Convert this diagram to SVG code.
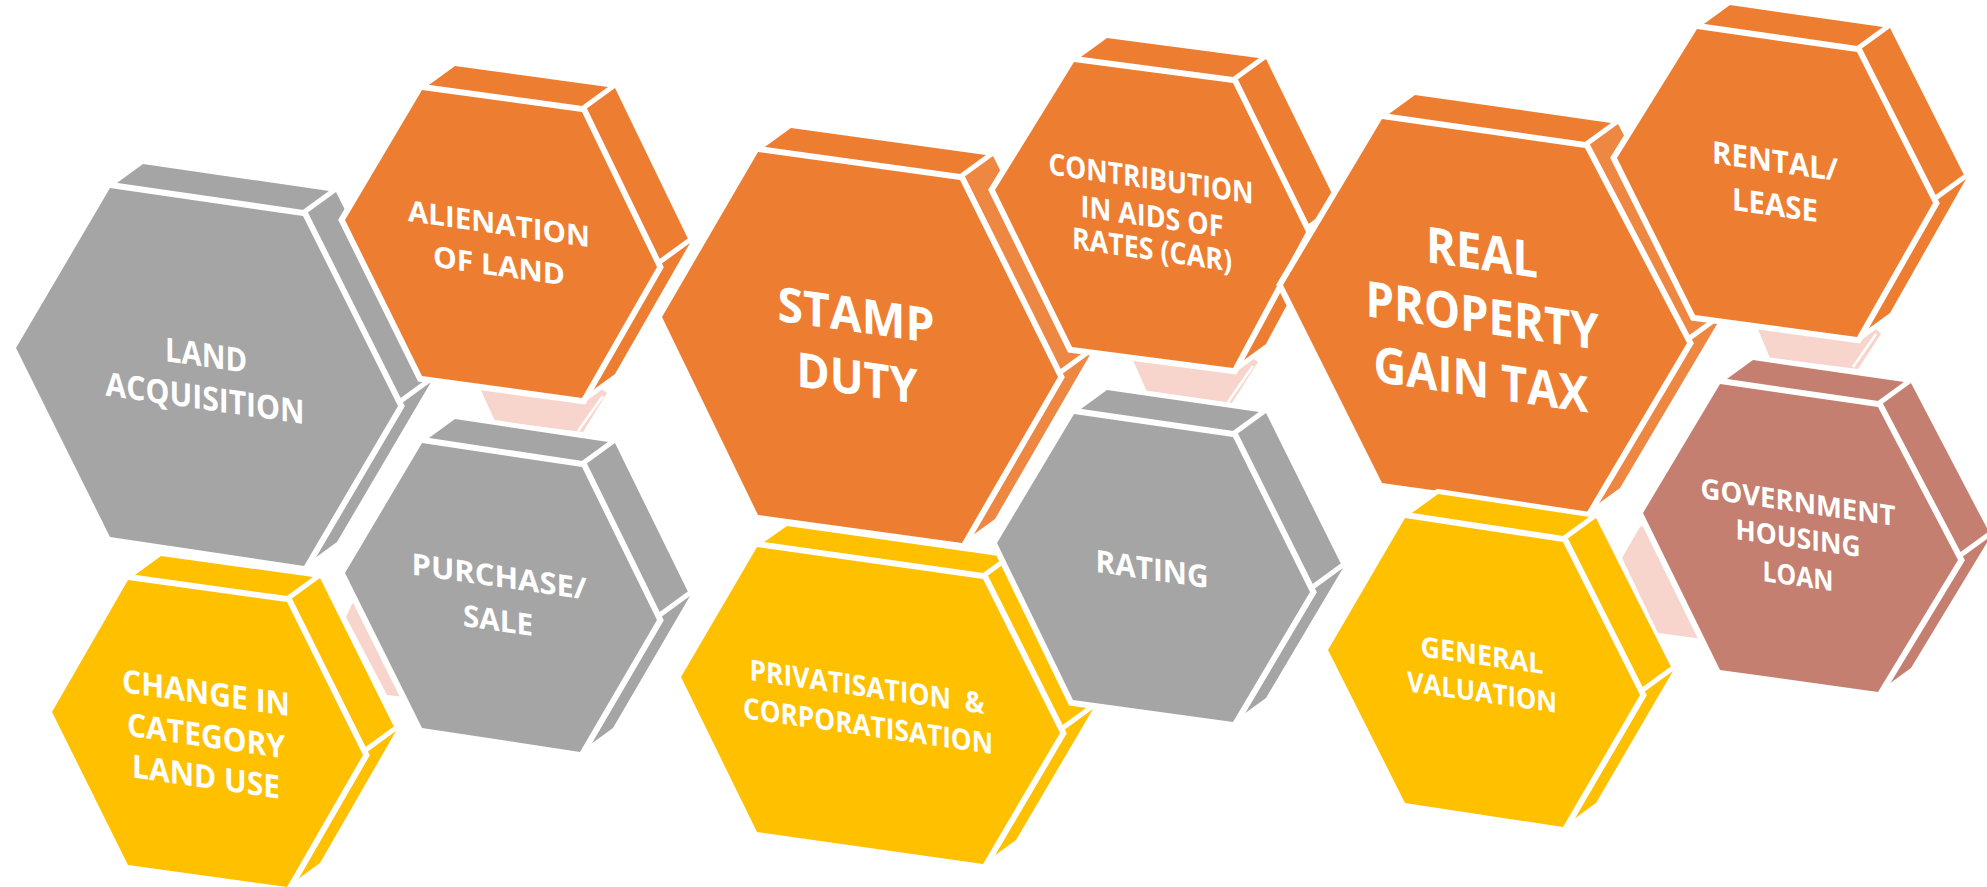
<svg xmlns="http://www.w3.org/2000/svg" width="1987" height="887" viewBox="0 0 1987 887">
<style>
.g{fill:#A5A5A5}.o{fill:#ED7D31}.y{fill:#FFC000}.b{fill:#C47F70}.ol{fill:#EE8742}
.f{stroke:#fff;stroke-width:12;paint-order:stroke;stroke-linejoin:miter}
.s{stroke:#fff;stroke-width:10;paint-order:stroke;stroke-linejoin:round}
.pk{fill:#F7D5CC}
.wl{stroke:#fff;stroke-width:2.5;fill:none}
text{font-family:"Open Sans","DejaVu Sans",sans-serif;font-weight:700;fill:#fff;text-anchor:middle;white-space:pre}
</style>
<rect width="1987" height="887" fill="#fff"/>

<g id="land-acquisition">
<polygon class="g s" points="110,188 303,216 336,192 143,164"/>
<polygon class="g s" points="303,216 398,406 431,382 336,192"/>
<polygon class="g s" points="398,406 304,566 337,542 431,382"/>
<polygon class="g f" points="110,188 303,216 398,406 304,566 110,537 16,348"/>
<g transform="translate(207 377) skewY(8.2)" font-size="33">
<text x="-1" y="-10" textLength="82" lengthAdjust="spacingAndGlyphs">LAND</text>
<text x="-2" y="33" textLength="199" lengthAdjust="spacingAndGlyphs">ACQUISITION</text>
</g>
</g>

<g id="change-in-category">
<polygon class="y s" points="128,580 287,602 320,578 161,556"/>
<polygon class="y s" points="287,602 363,755 396,731 320,578"/>
<polygon class="y s" points="363,755 287,887 320,863 396,731"/>
<polygon class="y f" points="128,580 287,602 363,755 287,887 128,865 52,712"/>
<g transform="translate(207.5 733.5) skewY(8.2)" font-size="32">
<text x="-1.5" y="-29.3" textLength="168" lengthAdjust="spacingAndGlyphs">CHANGE IN</text>
<text x="-1.5" y="13.7" textLength="158" lengthAdjust="spacingAndGlyphs">CATEGORY</text>
<text x="-1.5" y="54.7" textLength="148" lengthAdjust="spacingAndGlyphs">LAND USE</text>
</g>
</g>

<g id="connectors">
<g id="link-alienation-purchase">
<polygon class="pk" points="479,386 495,421 583,432 607,393 598,386"/>
<line class="wl" x1="578" y1="431" x2="603" y2="396"/>
</g>
</g>

<g id="alienation-of-land">
<polygon class="o s" points="422,90 582,112 615,88 455,66"/>
<polygon class="o s" points="582,112 657,267 690,243 615,88"/>
<polygon class="o s" points="657,267 582,398 615,374 690,243"/>
<polygon class="o f" points="422,90 582,112 657,267 582,398 422,376 345,220"/>
<g transform="translate(501 243.5) skewY(8.2)" font-size="29">
<text x="-2" y="-9.2" textLength="182" lengthAdjust="spacingAndGlyphs">ALIENATION</text>
<text x="-2" y="32.8" textLength="132" lengthAdjust="spacingAndGlyphs">OF LAND</text>
</g>
</g>

<g id="link-change-purchase">
<polygon class="pk" points="352,604 346,617 387,695 405,697 360,600"/>
</g>

<g id="purchase-sale">
<polygon class="g s" points="422,443 582,467 615,443 455,419"/>
<polygon class="g s" points="582,467 657,620 690,596 615,443"/>
<polygon class="g s" points="657,620 580,752 613,728 690,596"/>
<polygon class="g f" points="422,443 582,467 657,620 580,752 422,728 345,573"/>
<g transform="translate(501 596.5) skewY(8.2)" font-size="30">
<text x="-2" y="-9.2" textLength="175" lengthAdjust="spacingAndGlyphs">PURCHASE/</text>
<text x="-3" y="34.9" textLength="70" lengthAdjust="spacingAndGlyphs">SALE</text>
</g>
</g>

<g id="stamp-duty">
<polygon class="o s" points="758,152 960,180 993,156 791,128"/>
<polygon class="ol s" points="960,180 1058,377 1091,353 993,156"/>
<polygon class="ol s" points="1058,377 962,543 995,519 1091,353"/>
<polygon class="o f" points="758,152 960,180 1058,377 962,543 758,515 662,317"/>
<g transform="translate(860 347) skewY(8.2)" font-size="48">
<text x="-4" y="-14.4" textLength="157" lengthAdjust="spacingAndGlyphs">STAMP</text>
<text x="-3" y="48.4" textLength="121" lengthAdjust="spacingAndGlyphs">DUTY</text>
</g>
</g>

<g id="privatisation-corporatisation">
<polygon class="y s" points="757,547 983,579 1013,558 787,526"/>
<polygon class="y s" points="983,579 1060,733 1093,709 1015,556"/>
<polygon class="y s" points="1060,733 983,864 1016,840 1093,709"/>
<polygon class="y f" points="757,547 983,579 1060,733 983,864 757,832 681,677"/>
<g transform="translate(870 705) skewY(8.2)" font-size="29">
<text x="-3" y="-7.6" textLength="235" lengthAdjust="spacingAndGlyphs" xml:space="preserve">PRIVATISATION  &amp;</text>
<text x="-2" y="31.3" textLength="250" lengthAdjust="spacingAndGlyphs">CORPORATISATION</text>
</g>
</g>

<g id="link-contribution-rating">
<polygon class="pk" points="1132,358 1147,392 1232,403 1258,362 1250,356"/>
<line class="wl" x1="1228" y1="402" x2="1253" y2="366"/>
</g>

<g id="contribution-in-aids-of-rates">
<polygon class="o s" points="1074,62 1233,83 1266,59 1107,38"/>
<polygon class="o s" points="1233,83 1306,232 1339,208 1266,59"/>
<polygon class="o s" points="1306,232 1233,368 1266,344 1339,208"/>
<polygon class="o f" points="1074,62 1233,83 1306,232 1233,368 1072,347 995,190"/>
<g transform="translate(1150.5 211) skewY(8.2)" font-size="30">
<text x="0.5" y="-22" textLength="205" lengthAdjust="spacingAndGlyphs">CONTRIBUTION</text>
<text x="1.5" y="15.8" textLength="143" lengthAdjust="spacingAndGlyphs">IN AIDS OF</text>
<text x="1.5" y="48.8" textLength="160" lengthAdjust="spacingAndGlyphs">RATES (CAR)</text>
</g>
</g>

<g id="rating">
<polygon class="g s" points="1074,414 1233,437 1266,413 1107,390"/>
<polygon class="g s" points="1233,437 1310,592 1343,568 1266,413"/>
<polygon class="g s" points="1310,592 1233,722 1266,698 1343,568"/>
<polygon class="g f" points="1074,414 1233,437 1310,592 1233,722 1073,700 997,543"/>
<g transform="translate(1153.5 567.5) skewY(8.2)" font-size="31">
<text x="-1.5" y="12.7" textLength="113" lengthAdjust="spacingAndGlyphs">RATING</text>
</g>
</g>

<g id="real-property-gain-tax">
<polygon class="o s" points="1382,119 1585,148 1618,124 1415,95"/>
<polygon class="ol s" points="1585,148 1687,343 1720,319 1618,124"/>
<polygon class="ol s" points="1687,343 1587,512 1620,488 1720,319"/>
<polygon class="o f" points="1382,119 1585,148 1687,343 1587,512 1382,483 1283,285"/>
<g transform="translate(1485 314) skewY(8.2)" font-size="50">
<text x="-3" y="-43.6" textLength="112" lengthAdjust="spacingAndGlyphs">REAL</text>
<text x="-3" y="19.4" textLength="233" lengthAdjust="spacingAndGlyphs">PROPERTY</text>
<text x="-4" y="83.6" textLength="215" lengthAdjust="spacingAndGlyphs">GAIN TAX</text>
</g>
</g>

<g id="general-valuation">
<polygon class="y s" points="1405,518 1563,542 1596,518 1438,494"/>
<polygon class="y s" points="1563,542 1640,695 1673,671 1596,518"/>
<polygon class="y s" points="1640,695 1563,827 1596,803 1673,671"/>
<polygon class="y f" points="1405,518 1563,542 1640,695 1563,827 1405,803 1328,650"/>
<g transform="translate(1484 672.5) skewY(8.2)" font-size="28">
<text x="-2" y="-7.2" textLength="123" lengthAdjust="spacingAndGlyphs">GENERAL</text>
<text x="-2" y="29.8" textLength="150" lengthAdjust="spacingAndGlyphs">VALUATION</text>
</g>
</g>

<g id="link-rental-government">
<polygon class="pk" points="1757,327 1770,358 1858,369 1881,334 1875,328"/>
<line class="wl" x1="1853" y1="367" x2="1876" y2="334"/>
</g>

<g id="rental-lease">
<polygon class="o s" points="1697,29 1857,52 1890,28 1730,5"/>
<polygon class="o s" points="1857,52 1933,203 1966,179 1890,28"/>
<polygon class="o s" points="1933,203 1857,337 1890,313 1966,179"/>
<polygon class="o f" points="1697,29 1857,52 1933,203 1857,337 1695,315 1617,158"/>
<g transform="translate(1775 180.5) skewY(8.2)" font-size="31">
<text x="0" y="-8.5" textLength="126" lengthAdjust="spacingAndGlyphs">RENTAL/</text>
<text x="0" y="35.5" textLength="86" lengthAdjust="spacingAndGlyphs">LEASE</text>
</g>
</g>

<g id="link-valuation-government">
<polygon class="pk" points="1640,527 1622,558 1658,633 1703,639 1649,524"/>
</g>

<g id="government-housing-loan">
<polygon class="b s" points="1720,384 1878,407 1911,383 1753,360"/>
<polygon class="b s" points="1878,407 1958,560 1991,536 1911,383"/>
<polygon class="b s" points="1958,560 1878,692 1911,668 1991,536"/>
<polygon class="b f" points="1720,384 1878,407 1958,560 1878,692 1720,670 1643,513"/>
<g transform="translate(1800.5 536.5) skewY(8.2)" font-size="28">
<text x="-2.5" y="-24.1" textLength="195" lengthAdjust="spacingAndGlyphs">GOVERNMENT</text>
<text x="-2.5" y="11.9" textLength="125" lengthAdjust="spacingAndGlyphs">HOUSING</text>
<text x="-2.5" y="49.9" textLength="71" lengthAdjust="spacingAndGlyphs">LOAN</text>
</g>
</g>
</svg>
